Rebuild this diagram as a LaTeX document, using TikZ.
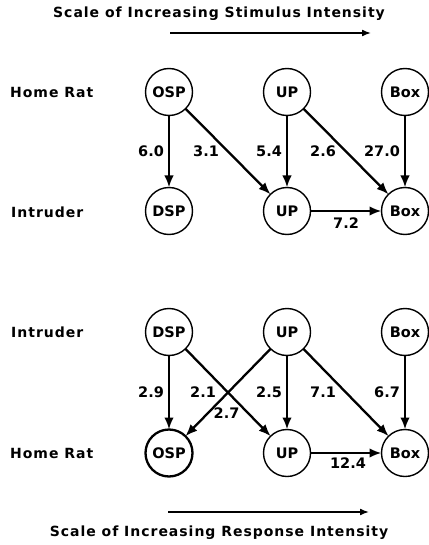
\documentclass[tikz,border=0pt]{standalone}
\usepackage{fontspec}
\setmainfont{DejaVu Sans}
\newfontfamily\labfont[LetterSpace=7]{DejaVu Sans}
\newfontfamily\numfont{DejaVu Sans}
\usetikzlibrary{arrows.meta}
\tikzset{
  st/.style={circle,draw,line width=1.4pt,minimum size=47pt,inner sep=0pt,outer sep=0pt,
    font=\fontsize{14.5}{16}\selectfont\bfseries},
  stbold/.style={st,line width=2.3pt},
  arr/.style={line width=2.3pt,-{Latex[length=12pt,width=9.5pt]}},
  scalearr/.style={line width=1.6pt,-{Latex[length=9pt,width=7pt]}},
  lab/.style={font=\fontsize{14}{16}\labfont\bfseries,inner sep=0pt,text height=10pt,text depth=0pt},
  num/.style={font=\fontsize{14.5}{17}\numfont\bfseries,inner sep=0pt,text height=10.5pt,text depth=0pt},
  vnum/.style={num,midway,anchor=east,xshift=-4pt},
}
\begin{document}
\begin{tikzpicture}[x=1pt,y=-1pt]
\useasboundingbox (0,0) rectangle (428,545);
% titles and scale arrows
\node[lab] (t1) at (219,13) {Scale of Increasing Stimulus Intensity};
\coordinate (a1s) at (170,33);
\coordinate (a1e) at (371,33);
\draw[scalearr] (a1s) -- (a1e);
\node[lab] (t2) at (219,531) {Scale of Increasing Response Intensity};
\coordinate (a2s) at (168,512);
\coordinate (a2e) at (369,512);
\draw[scalearr] (a2s) -- (a2e);
% row labels
\node[lab,anchor=west] (l1) at (10,93) {Home Rat};
\node[lab,anchor=west] (l2) at (11,212) {Intruder};
\node[lab,anchor=west] (l3) at (11,332) {Intruder};
\node[lab,anchor=west] (l4) at (10,453) {Home Rat};
% top diagram
\node[st] (h1) at (169,92) {OSP};
\node[st] (h2) at (287,92) {UP};
\node[st] (h3) at (405,92) {Box};
\node[st] (i1) at (169,211) {DSP};
\node[st] (i2) at (287,211) {UP};
\node[st] (i3) at (405,211) {Box};
\draw[arr] (h1) -- (i1) node[vnum] {6.0};
\draw[arr] (h1) -- (i2) node[num,midway,xshift=-22pt] {3.1};
\draw[arr] (h2) -- (i2) node[vnum] {5.4};
\draw[arr] (h2) -- (i3) node[num,midway,xshift=-23pt] {2.6};
\draw[arr] (h3) -- (i3) node[vnum] {27.0};
\draw[arr] (i2) -- (i3) node[num,midway,yshift=-12.5pt] {7.2};
% bottom diagram
\node[st] (j1) at (169,332) {DSP};
\node[st] (j2) at (287,332) {UP};
\node[st] (j3) at (405,332) {Box};
\node[stbold] (k1) at (169,453) {OSP};
\node[st] (k2) at (287,453) {UP};
\node[st] (k3) at (405,453) {Box};
\draw[arr] (j1) -- (k1) node[vnum] {2.9};
\draw[arr] (j1) -- (k2) node[num,midway,xshift=-25pt] {2.1};
\draw[arr] (j2) -- (k1) node[num,pos=0.74,xshift=19pt] {2.7};
\draw[arr] (j2) -- (k2) node[vnum] {2.5};
\draw[arr] (j2) -- (k3) node[num,midway,xshift=-23pt] {7.1};
\draw[arr] (j3) -- (k3) node[vnum] {6.7};
\draw[arr] (k2) -- (k3) node[num,midway,yshift=-10pt,xshift=2pt] {12.4};
\end{tikzpicture}
\end{document}
